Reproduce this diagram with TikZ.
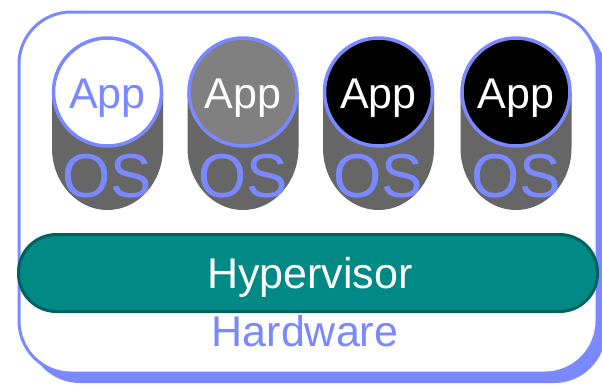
\documentclass[tikz,border=0pt]{standalone}
\usepackage{fontspec}
\setmainfont{Liberation Sans}
\usetikzlibrary{shadows}
\definecolor{hvblue}{RGB}{122,137,255}
\definecolor{hvteal}{RGB}{0,137,133}
\definecolor{hvtealdark}{RGB}{0,98,96}
\definecolor{osgray}{RGB}{102,102,102}
\definecolor{appgray}{RGB}{128,128,128}
\begin{document}
\begin{tikzpicture}[x=1pt,y=-1pt,
  hostbox/.style={draw=hvblue, line width=3pt, fill=white, rounded corners=52pt,
    drop shadow={fill=hvblue, opacity=1, shadow xshift=9pt, shadow yshift=-10pt}},
  osbody/.style={fill=osgray},
  appcircle/.style={circle, draw=hvblue, line width=3.5pt, minimum size=108pt, inner sep=0pt},
  apptext/.style={anchor=base, font=\fontsize{43}{43}\selectfont},
  ostext/.style={anchor=base, text=hvblue, font=\fontsize{62}{62}\selectfont},
  hyperbox/.style={draw=hvtealdark, fill=hvteal, line width=3pt, rounded corners=38pt,
    minimum width=579pt, minimum height=77pt, inner sep=0pt},
  bigtext/.style={anchor=base, font=\fontsize{43}{43}\selectfont}]
\useasboundingbox (0,0) rectangle (602,384);

% host machine outline with its shadow
\node[hostbox, minimum width=578pt, minimum height=361pt, inner sep=0pt] (host) at (308,192.5) {};

% guest operating systems: straight sides, elliptical bottom
\foreach \cx/\nm in {107.5/os1, 243/os2, 378.5/os3, 516/os4}{
  \fill[osbody] (\cx-55.5,92) -- (\cx-55.5,148)
    arc[start angle=180, end angle=360, x radius=55.5pt, y radius=62pt]
    -- (\cx+55.5,92) -- cycle;
}

% applications on top of each guest
\node[appcircle, fill=white] (app1) at (107.5,92) {};
\node[appcircle, fill=appgray] (app2) at (243,92) {};
\node[appcircle, fill=black] (app3) at (378.5,92) {};
\node[appcircle, fill=black] (app4) at (516,92) {};

\node[apptext, text=hvblue] (applabel1) at (107.5,108) {App};
\node[apptext, text=white] (applabel2) at (243,108) {App};
\node[apptext, text=white] (applabel3) at (378.5,108) {App};
\node[apptext, text=white] (applabel4) at (516,108) {App};

\node[ostext] (oslabel1) at (107.5,197) {OS};
\node[ostext] (oslabel2) at (243,197) {OS};
\node[ostext] (oslabel3) at (378.5,197) {OS};
\node[ostext] (oslabel4) at (516,197) {OS};

% hypervisor layer
\node[hyperbox] (hyp) at (308,273) {};
\node[bigtext, text=white] (hyplabel) at (310,288) {Hypervisor};

% hardware label
\node[bigtext, text=hvblue] (hwlabel) at (305,346) {Hardware};
\end{tikzpicture}
\end{document}
